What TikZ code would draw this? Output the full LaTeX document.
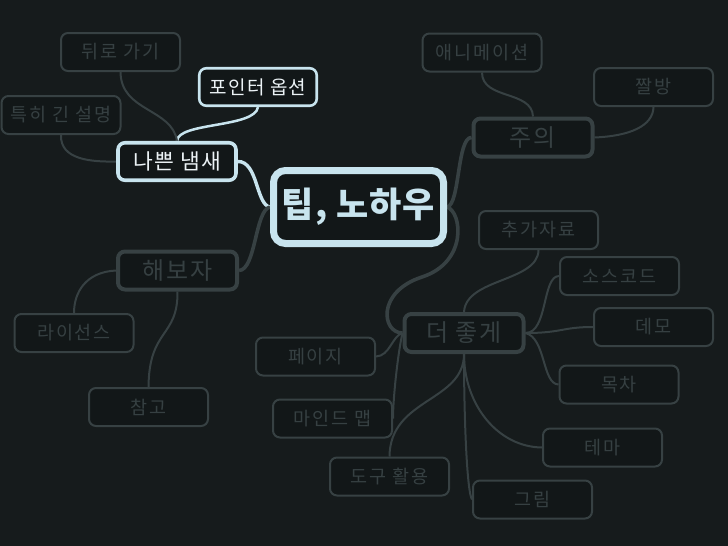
\documentclass[tikz,border=0pt]{standalone}
\usepackage{fontspec}
\setmainfont{Noto Sans CJK KR}
\usetikzlibrary{backgrounds}
\definecolor{bg}{RGB}{22,27,28}
\definecolor{nodefill}{RGB}{18,23,24}
\definecolor{dimc}{RGB}{55,65,67}
\definecolor{dimt}{RGB}{54,64,66}
\definecolor{brt}{RGB}{200,228,238}
\definecolor{brtt}{RGB}{236,243,246}
\tikzset{
  leaf/.style={draw=dimc, line width=2pt, fill=nodefill, rounded corners=7pt,
    minimum width=119pt, minimum height=38pt, inner sep=0pt, text=dimt,
    font=\fontsize{18.5}{20}\selectfont\addfontfeature{LetterSpace=10}},
  leafb/.style={leaf, draw=brt, line width=2.6pt, text=brtt,
    minimum width=117.5pt, minimum height=37.5pt,
    font=\fontsize{19}{21}\selectfont\addfontfeature{LetterSpace=6}},
  mainnode/.style={draw=dimc, line width=4pt, fill=nodefill, rounded corners=7pt,
    minimum width=119pt, minimum height=38pt, inner sep=0pt, text=dimt,
    font=\fontsize{24}{26}\selectfont\addfontfeature{LetterSpace=8}},
  mainb/.style={mainnode, draw=brt, line width=3.6pt, text=brtt,
    minimum width=118pt, minimum height=37.5pt,
    font=\fontsize{21.5}{23}\selectfont\addfontfeature{LetterSpace=6}},
  rootnode/.style={draw=brt, line width=7pt, fill=nodefill, rounded corners=12pt,
    minimum width=170pt, minimum height=73pt, inner sep=0pt, text=brt,
    font=\bfseries\fontsize{35}{38}\selectfont\addfontfeature{LetterSpace=3}},
  con/.style={draw=dimc, line width=2pt},
  conm/.style={draw=dimc, line width=3.6pt},
  conb/.style={draw=brt, line width=2.5pt},
  conmb/.style={draw=brt, line width=3.4pt},
}
\begin{document}
\begin{tikzpicture}[x=1pt,y=-1pt]
\useasboundingbox (0,0) rectangle (728,546);
\begin{scope}[on background layer]
\fill[bg] (0,0) rectangle (728,546);
\end{scope}

% nodes
\node[rootnode] (root) at (358.5,207) {팁, 노하우};
\node[mainb] (bad) at (177,161.5) {나쁜 냄새};
\node[mainnode] (try) at (177.5,270.5) {해보자};
\node[mainnode] (caution) at (533,137.5) {주의};
\node[mainnode] (better) at (464,333) {더 좋게};

\node[leaf] (back) at (120.5,52) {뒤로 가기};
\node[leafb] (ptr) at (258,87) {포인터 옵션};
\node[leaf] (long) at (61,115) {특히 긴 설명};
\node[leaf] (anim) at (482,52.5) {애니메이션};
\node[leaf] (zzal) at (653.5,87) {짤방};
\node[leaf] (license) at (74,333) {라이선스};
\node[leaf] (ref) at (148.5,407) {참고};
\node[leaf] (extra) at (538.5,230) {추가자료};
\node[leaf] (src) at (619.5,276) {소스코드};
\node[leaf] (demo) at (653.5,327) {데모};
\node[leaf] (page) at (315.5,356.5) {페이지};
\node[leaf] (toc) at (619,384.5) {목차};
\node[leaf] (mind) at (332.5,418.5) {마인드 맵};
\node[leaf] (theme) at (602.5,447.5) {테마};
\node[leaf] (tool) at (389.5,476.5) {도구 활용};
\node[leaf] (pic) at (532.5,499.5) {그림};

% connectors
\begin{scope}[on background layer]
\path[conmb] (root.west) .. controls (256,205) and (258,161) .. (bad.east);
\path[conm] (root.west) .. controls (255,210) and (256,270) .. (try.east);
\path[conm] (root.east) .. controls (460,205) and (457,137) .. (caution.west);
\path[conm] (root.east) .. controls (462,212) and (468,262) .. (422,277)
  .. controls (376,292) and (382,333) .. (better.west);

\path[conb] (bad.north) .. controls (178,122) and (255,128) .. (ptr.south);
\path[con] (bad.north) .. controls (172,108) and (121,112) .. (back.south);
\path[con] (long.south) .. controls (60,160) and (92,162) .. (bad.west);

\path[con] (anim.south) .. controls (482,100) and (532,90) .. (caution.north);
\path[con] (caution.east) .. controls (630,136) and (653,126) .. (zzal.south);

\path[con] (try.west) .. controls (86,272) and (74,292) .. (license.north);
\path[con] (try.south) .. controls (178,338) and (149,328) .. (ref.north);

\path[con] (better.north) .. controls (466,278) and (538,282) .. (extra.south);
\path[con] (better.east) .. controls (548,333) and (542,276) .. (src.west);
\path[con] (better.east) .. controls (562,333) and (562,327) .. (demo.west);
\path[con] (better.east) .. controls (546,338) and (542,384) .. (toc.west);
\path[con] (better.west) .. controls (392,336) and (390,356) .. (page.east);
\path[con] (better.west) .. controls (398,352) and (393,398) .. (mind.east);
\path[con] (better.south) .. controls (464,402) and (390,398) .. (tool.north);
\path[con] (better.south) .. controls (464,420) and (467,492) .. (pic.west);
\path[con] (better.south) .. controls (464,405) and (498,447) .. (theme.west);
\end{scope}
\end{tikzpicture}
\end{document}
